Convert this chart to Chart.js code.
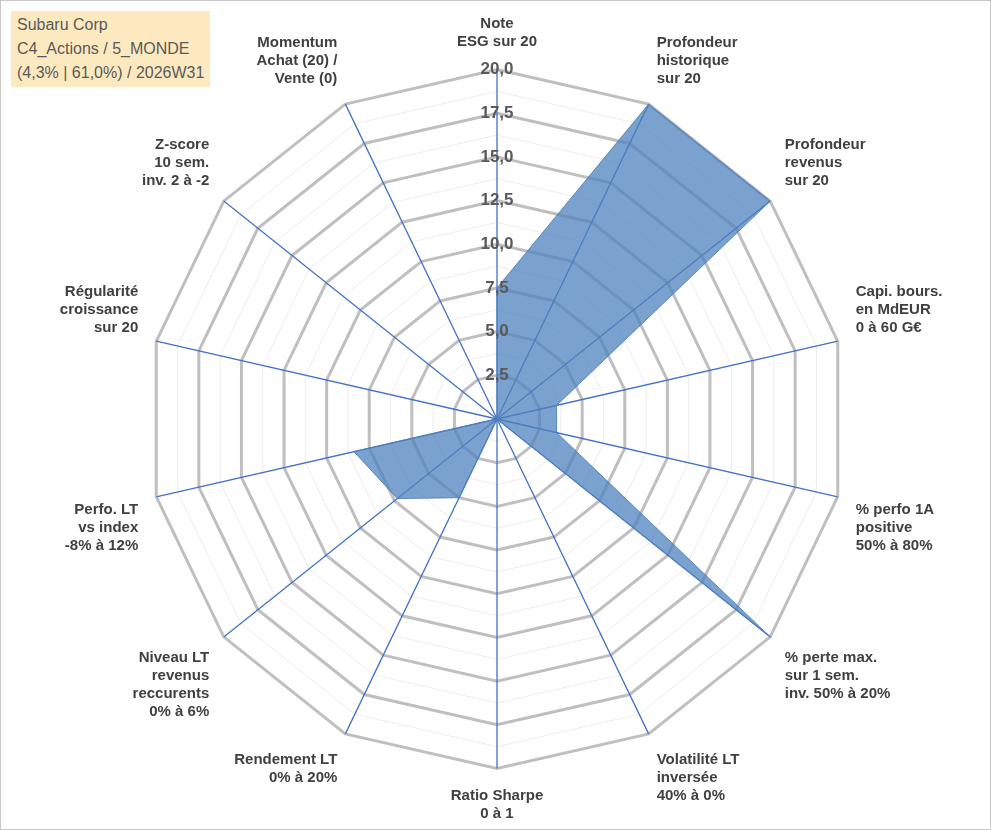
<!DOCTYPE html>
<html lang="fr">
<head>
<meta charset="UTF-8">
<script src="https://cdn.jsdelivr.net/npm/chart.js"></script>
<style>
  body { margin: 0; background: #fff; font-family: Arial, "Liberation Sans", sans-serif; }
  .wrap { position: relative; width: 989px; height: 828px; border: 1px solid #c8c8c8; }
  .titre { position: absolute; left: 10px; top: 10px; background: #fde9c0; color: #595959;
    font-size: 16px; line-height: 24px; padding: 2px 6px; }
</style>
</head>
<body>
<div class="wrap">
  <canvas id="radar" width="989" height="828"></canvas>
  <div class="titre">Subaru Corp<br>C4_Actions / 5_MONDE<br>(4,3% | 61,0%) / 2026W31</div>
</div>
<script>
const categories = [
  ['Note', 'ESG sur 20'],
  ['Profondeur', 'historique', 'sur 20'],
  ['Profondeur', 'revenus', 'sur 20'],
  ['Capi. bours.', 'en MdEUR', '0 à 60 G€'],
  ['% perfo 1A', 'positive', '50% à 80%'],
  ['% perte max.', 'sur 1 sem.', 'inv. 50% à 20%'],
  ['Volatilité LT', 'inversée', '40% à 0%'],
  ['Ratio Sharpe', '0 à 1'],
  ['Rendement LT', '0% à 20%'],
  ['Niveau LT', 'revenus', 'reccurents', '0% à 6%'],
  ['Perfo. LT', 'vs index', '-8% à 12%'],
  ['Régularité', 'croissance', 'sur 20'],
  ['Z-score', '10 sem.', 'inv. 2 à -2'],
  ['Momentum', 'Achat (20) /', 'Vente (0)']
];
const valeurs = [7.5, 20, 20, 3.5, 3.5, 20, 0, 0, 5, 7.3, 8.4, 0, 0, 0];

new Chart(document.getElementById('radar').getContext('2d'), {
  type: 'radar',
  data: {
    labels: categories,
    datasets: [{
      data: valeurs,
      backgroundColor: 'rgba(79, 129, 189, 0.75)',
      borderColor: 'rgba(79, 129, 189, 0.9)',
      borderWidth: 1,
      pointRadius: 0
    }]
  },
  options: {
    responsive: false,
    animation: false,
    layout: { padding: { top: 14, bottom: 6, left: 34, right: 22 } },
    plugins: { legend: { display: false }, tooltip: { enabled: false } },
    scales: {
      r: {
        min: 0, max: 20,
        ticks: {
          stepSize: 1.25,
          color: '#595959',
          font: { size: 17, weight: 'bold', family: 'Arial' },
          showLabelBackdrop: false,
          z: 1,
          callback: v => (v % 2.5 === 0) ? v.toFixed(1).replace('.', ',') : ''
        },
        grid: {
          color: ctx => (ctx.tick && ctx.tick.value % 2.5 === 0) ? '#bfbfbf' : '#ececec',
          lineWidth: ctx => (ctx.tick && ctx.tick.value % 2.5 === 0) ? 3 : 1
        },
        angleLines: { color: '#4472c4', lineWidth: 1.3 },
        pointLabels: {
          color: '#404040',
          font: { size: 15, weight: 'bold', family: 'Arial' },
          padding: 8
        }
      }
    }
  }
});
</script>
</body>
</html>
